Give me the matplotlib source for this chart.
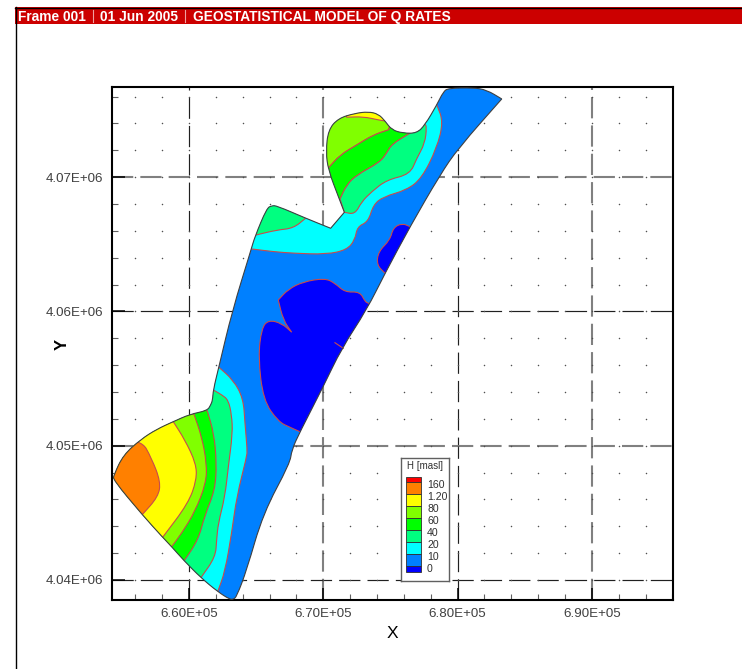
import matplotlib
matplotlib.use("Agg")
import matplotlib.pyplot as plt
import numpy as np
from matplotlib.patches import PathPatch, Rectangle
from matplotlib.path import Path
from matplotlib.ticker import FuncFormatter, MultipleLocator

plt.rcParams['font.family'] = ['Liberation Sans', 'DejaVu Sans']

# all vertices in km; a repeated vertex is a sharp corner
outline = [(663.05, 4038.55), (662.14, 4039.13), (660.89, 4040.17), (659.63, 4041.44), (658.71, 4042.48),
           (658.04, 4043.18), (656.52, 4044.86), (654.36, 4047.45), (654.41, 4047.82), (655.11, 4049.31),
           (656.43, 4050.48), (657.59, 4051.22), (658.83, 4051.79), (660.07, 4052.34), (661.36, 4052.61),
           (661.62, 4053.03), (661.76, 4053.40), (661.81, 4054.15), (662.23, 4055.88), (663.22, 4060.03),
           (664.62, 4064.58), (664.91, 4065.57), (665.79, 4067.68), (666.16, 4067.87), (666.53, 4067.87),
           (668.69, 4066.94), (670.55, 4066.19), (670.55, 4066.19), (671.57, 4067.38), (671.57, 4067.38),
           (671.17, 4068.43), (670.37, 4070.53),
           (670.20, 4071.90), (670.37, 4073.51), (671.12, 4074.38), (672.36, 4074.75), (673.35, 4074.87),
           (674.10, 4074.70), (674.60, 4074.18), (675.10, 4073.51), (675.96, 4073.27), (676.96, 4073.27),
           (677.57, 4073.88), (678.45, 4075.37), (678.94, 4076.36), (679.31, 4076.62), (681.17, 4076.66),
           (682.17, 4076.49), (683.29, 4075.82), (683.29, 4075.82), (680.05, 4072.15), (678.69, 4070.16),
           (676.46, 4066.31),
           (674.60, 4062.84), (673.23, 4060.11), (671.37, 4057.25), (670.00, 4054.40), (668.27, 4051.04),
           (667.65, 4049.68), (667.52, 4048.69), (665.53, 4044.97), (664.30, 4040.74), (663.55, 4038.76),
           (663.30, 4038.56)]

cyan_south = [(662.18, 4055.88), (663.30, 4054.89), (664.04, 4053.53), (664.17, 4051.67), (664.34, 4049.68),
              (664.30, 4049.18), (663.55, 4046.20), (663.18, 4043.48), (662.68, 4040.62), (662.14, 4039.13),
              (653, 4038), (653, 4055.88)]
spring_south = [(661.81, 4054.15), (662.46, 4053.78), (662.93, 4053.40), (663.18, 4052.29), (663.25, 4050.92),
                (662.93, 4048.44), (662.68, 4046.20), (662.18, 4044.22), (662.06, 4042.98), (661.97, 4041.71),
                (660.89, 4040.17), (653, 4040.17), (653, 4054.15)]
green_south = [(661.36, 4052.61), (661.86, 4050.92), (662.06, 4048.69), (661.94, 4046.70), (661.19, 4044.84),
               (660.69, 4042.98), (659.65, 4041.44), (653, 4041.44), (653, 4052.61)]
lime_south = [(660.37, 4052.36), (660.95, 4050.67), (661.32, 4048.69), (661.27, 4047.20), (660.45, 4045.09),
              (659.46, 4043.48), (658.71, 4042.48), (653, 4042.48), (653, 4052.36)]
yellow_south = [(658.83, 4051.79), (659.70, 4050.43), (660.52, 4048.69), (660.57, 4047.45), (659.95, 4045.71),
                (658.04, 4043.18), (653, 4043.18), (653, 4051.79)]
orange_south = [(656.43, 4050.48), (657.22, 4049.06), (657.89, 4047.32), (657.71, 4046.20), (656.52, 4044.86),
                (653, 4044.86), (653, 4050.48)]

cyan_north = [(664.67, 4064.65), (664.67, 4064.65), (666.28, 4064.45), (667.77, 4064.33), (670.25, 4064.25),
              (671.74, 4064.58), (672.36, 4065.32), (672.53, 4066.31), (673.35, 4066.68), (673.72, 4067.93),
              (674.47, 4068.54), (676.21, 4069.04), (677.33, 4069.91), (678.45, 4072.15), (678.94, 4074.13),
              (678.45, 4075.37), (678.45, 4075.37), (678, 4076.5), (668, 4076.5), (664, 4064.65)]
spring_west = [(664.99, 4065.69), (664.99, 4065.69), (666.53, 4066.06), (667.77, 4066.19), (668.69, 4066.94),
               (668.69, 4066.94), (667, 4069), (667, 4069), (664, 4069), (664, 4069)]
lime_north = [(670.37, 4070.66), (670.37, 4070.66), (671.25, 4071.65), (672.49, 4072.39), (673.72, 4073.14),
              (674.84, 4073.51), (674.84, 4073.51), (675.5, 4075.5), (675.5, 4075.5), (669.5, 4075.5),
              (669.5, 4075.5), (669.5, 4070.66), (669.5, 4070.66)]
green_north = [(670.37, 4070.66), (670.37, 4070.66), (671.25, 4071.65), (672.49, 4072.39), (673.72, 4073.14),
               (674.84, 4073.51), (674.84, 4073.51), (675.5, 4074.4), (675.5, 4074.4), (676.5, 4073.9),
               (676.5, 4073.9), (676.46, 4073.27), (676.46, 4073.27), (675.10, 4072.45), (674.72, 4071.78),
               (674.22, 4071.11), (672.49, 4070.16), (671.74, 4069.42), (671.25, 4068.37), (671.25, 4068.37),
               (669.5, 4068.37), (669.5, 4068.37)]
spring_north = [(671.57, 4067.38), (671.57, 4067.38), (672.36, 4067.23), (672.86, 4068.17), (673.61, 4068.92),
                (674.72, 4069.79), (676.46, 4070.21), (676.96, 4071.40), (677.57, 4072.52), (677.70, 4073.76),
                (677.57, 4073.94), (677.57, 4073.94), (676.61, 4073.88), (676.61, 4073.88), (676.46, 4073.27),
                (676.46, 4073.27), (675.10, 4072.45), (674.72, 4071.78), (674.22, 4071.11), (672.49, 4070.16),
                (671.74, 4069.42), (671.25, 4068.37), (671.25, 4068.37)]
yellow_north = [(671.74, 4074.46), (671.74, 4074.46), (672.98, 4074.50), (674.10, 4074.26), (674.60, 4074.18),
                (674.60, 4074.18), (675, 4075.5), (675, 4075.5), (671.5, 4075.5), (671.5, 4075.5)]

blue_big = [(666.65, 4060.85), (667.39, 4061.65), (668.51, 4062.21), (670.13, 4062.47), (670.87, 4062.10),
            (671.62, 4061.42), (672.73, 4061.47), (673.11, 4060.73), (673.35, 4060.61), (673.35, 4060.61),
            (676, 4060), (676, 4060), (672, 4050),
            (668.27, 4051.04), (667.52, 4051.37), (666.65, 4051.79), (665.53, 4053.40), (665.16, 4056.63),
            (665.41, 4058.74), (665.91, 4059.36), (666.90, 4059.12), (667.65, 4058.45), (667.65, 4058.45),
            (667.02, 4059.36), (666.65, 4060.85), (666.65, 4060.85)]
blue_small = [(675.88, 4066.56), (676.46, 4066.31), (676.46, 4066.31), (678, 4066), (678, 4066), (676, 4062),
              (676, 4062), (674.60, 4062.84), (674.60, 4062.84), (673.98, 4063.46),
              (674.10, 4064.45), (674.97, 4065.32), (675.21, 4066.24)]
stub_x = [670.87, 671.49]
stub_y = [4057.67, 4057.25]

legend_labels = ['160', '1.20', '80', '60', '40', '20', '10', '0']
legend_colors = ['#ff0000', '#ff8000', '#ffff00', '#80ff00', '#00ff00', '#00ff80', '#00ffff', '#0080ff', '#0000ff']

fills = [(cyan_south, '#00ffff'), (spring_south, '#00ff80'), (green_south, '#00ff00'), (lime_south, '#80ff00'),
         (yellow_south, '#ffff00'), (orange_south, '#ff8000'), (cyan_north, '#00ffff'), (spring_west, '#00ff80'),
         (lime_north, '#80ff00'), (green_north, '#00ff00'), (spring_north, '#00ff80'), (yellow_north, '#ffff00'),
         (blue_big, '#0000ff'), (blue_small, '#0000ff')]

# some grid lines came out grey and wider in the original
grey_x = [670000, 690000]
grey_y = [4050000, 4070000]


def rounded_path(points, long_edge=3.5):
    # quadratic curves through the edge midpoints, long edges stay straight
    pts = np.array(points, dtype=float)
    n = len(pts)
    keep = []
    for i in range(n):
        keep.append(pts[i])
        before = np.hypot(*(pts[i] - pts[i - 1]))
        after = np.hypot(*(pts[(i + 1) % n] - pts[i]))
        if before > long_edge or after > long_edge:
            keep.append(pts[i])
    ctrl = np.array(keep)
    mids = (ctrl + np.roll(ctrl, -1, axis=0)) / 2
    verts = [mids[-1]]
    codes = [Path.MOVETO]
    for c, m in zip(ctrl, mids):
        verts += [c, m]
        codes += [Path.CURVE3, Path.CURVE3]
    return Path(np.array(verts) * 1000, codes)


def grey_out(line):
    line.set_color('#808080')
    line.set_linewidth(1.5)
    line.set_dashes((10.2, 3.4))


fig = plt.figure(figsize=(7.42, 6.69), dpi=100)
ax = fig.add_axes([112 / 742, 1 - 600 / 669, 561 / 742, 513 / 669])
ax.set_xlim(654270, 696040)
ax.set_ylim(4038510, 4076710)

# page frame and red title bar
fig.add_artist(Rectangle((15 / 742, 1 - 24 / 669), 727 / 742, 17 / 669, transform=fig.transFigure,
                         facecolor='#cc0000', edgecolor='none'))
fig.add_artist(plt.Line2D([15 / 742, 1], [1 - 7.5 / 669] * 2, color='black', lw=1))
fig.add_artist(plt.Line2D([15.5 / 742] * 2, [0, 1 - 7 / 669], color='black', lw=1))
for x in (93, 185):
    fig.add_artist(plt.Line2D([x / 742] * 2, [1 - 22 / 669, 1 - 10 / 669], color='#f0a0a0', lw=0.8))
for x, s in ((18, 'Frame 001'), (100, '01 Jun 2005'), (193, 'GEOSTATISTICAL MODEL OF Q RATES')):
    fig.text(x / 742, 1 - 17 / 669, s, color='white', fontsize=9.9, fontweight='bold', va='center')

ax.xaxis.set_major_locator(MultipleLocator(10000))
ax.yaxis.set_major_locator(MultipleLocator(10000))
ax.xaxis.set_minor_locator(MultipleLocator(2000))
ax.yaxis.set_minor_locator(MultipleLocator(2000))
sci = FuncFormatter(lambda v, pos: '%.2E' % v)
ax.xaxis.set_major_formatter(sci)
ax.yaxis.set_major_formatter(sci)
ax.tick_params(which='major', direction='in', length=9, width=1.1, labelsize=9.6, pad=6, labelcolor='#404040')
ax.tick_params(which='minor', direction='in', length=4.5, width=0.8, color='#606060')
ax.grid(which='major', color='#202020', lw=0.85, linestyle=(0, (18, 6)), zorder=1)
ax.set_axisbelow(True)
for loc, line in zip(ax.get_xticks(), ax.get_xgridlines()):
    if loc in grey_x:
        grey_out(line)
for loc, line in zip(ax.get_yticks(), ax.get_ygridlines()):
    if loc in grey_y:
        grey_out(line)
for spine in ax.spines.values():
    spine.set_linewidth(1.5)

dots_x, dots_y = np.meshgrid(np.arange(656000, 696000, 2000), np.arange(4040000, 4078000, 2000))
ax.scatter(dots_x.ravel(), dots_y.ravel(), s=1.2, color='#505050', linewidths=0, zorder=1)

ax.set_xlabel('X', fontsize=12.5, va='center')
ax.xaxis.set_label_coords(280 / 561, -33 / 513)
ax.set_ylabel('Y', fontsize=12, fontweight='bold', va='center')
ax.yaxis.set_label_coords(-50 / 561, 256 / 513)

region = PathPatch(rounded_path(outline, long_edge=99), facecolor='#0080ff', edgecolor='none', zorder=2)
ax.add_patch(region)
for points, color in fills:
    patch = PathPatch(rounded_path(points), facecolor=color, edgecolor='#c84c4c', lw=0.8, zorder=3)
    ax.add_patch(patch)
    patch.set_clip_path(region)
ax.plot(np.array(stub_x) * 1000, np.array(stub_y) * 1000, color='#c84c4c', lw=0.8, zorder=3)
ax.add_patch(PathPatch(rounded_path(outline, long_edge=99), fill=False, edgecolor='#404040', lw=0.8, zorder=4))

# legend box, drawn in its own little axes measured in pixels
lax = fig.add_axes([401 / 742, 1 - 581 / 669, 48 / 742, 123 / 669], zorder=5)
lax.set_xlim(0, 48)
lax.set_ylim(123, 0)
lax.set_xticks([])
lax.set_yticks([])
for spine in lax.spines.values():
    spine.set_color('#606060')
    spine.set_linewidth(1)
lax.text(24, 8, 'H [masl]', fontsize=7, ha='center', va='center', color='#303030')
for i, color in enumerate(legend_colors):
    top = 18.7 if i == 0 else 24.3 + 12 * (i - 1)
    bottom = 24.3 + 12 * i if i < 8 else 114.3
    lax.add_patch(Rectangle((5, top), 15, bottom - top, facecolor=color, edgecolor='#303030', lw=0.6))
for i, label in enumerate(legend_labels):
    lax.text(26, 26.5 + 12 * i, label, fontsize=7.6, va='center', color='#303030')

fig.savefig('out.png', dpi=100)
